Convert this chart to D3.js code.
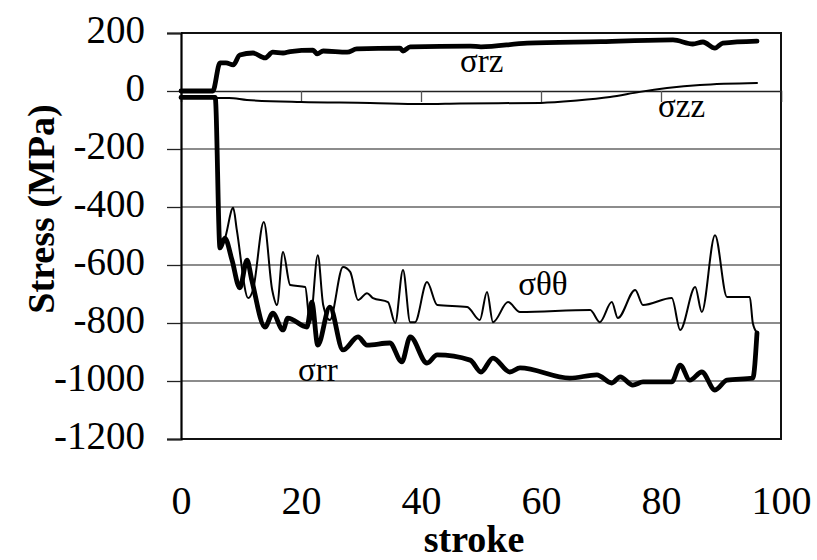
<!DOCTYPE html>
<html lang="en">
<head>
<meta charset="UTF-8">
<title>Stress vs stroke</title>
<script src="https://d3js.org/d3.v7.min.js"></script>
<style>
    body { margin: 0; background: #fff; }
    text { font-family: "Liberation Serif", "Times New Roman", serif; fill: #000; }
    .tick text { font-size: 39px; }
    .title { font-weight: bold; font-size: 38px; }
    .lbl { font-size: 33px; }
</style>
</head>
<body>
<svg width="817" height="560"></svg>
<script>
    // values: [stroke, stress MPa]
    const sigmaRZ = [[0,0],[5.3,0],[6.5,97],[7.5,97],[8.7,90],[9.8,124],[12,131],[14,114],[15.3,134],[17,131],
        [18.2,136],[22,141],[22.7,128],[23.7,138],[27.7,134],[29.3,145],[36.5,148],[37,138],[38.2,152],
        [48.2,155],[50,152],[57.7,165],[70,170],[82,176],[85.3,162],[87,169],[89,148],[90.3,165],[96,172]];
    const sigmaZZ = [[0,-24],[8,-24],[11,-31],[20,-38],[31.5,-41],[40,-45],[46.5,-43],[60,-41],[66,-33],
        [71.5,-21],[76.5,-3],[81,10],[86.5,21],[96,28]];
    const sigmaRR = [[0,-22],[5.7,-22],[6.5,-541],[7.3,-507],[8.5,-583],[9.8,-679],[11,-583],[11.8,-652],
        [14,-814],[15.3,-766],[17,-824],[17.8,-783],[21,-814],[21.8,-728],[22.8,-876],[24.8,-745],[27,-893],
        [29.5,-848],[31,-876],[34.8,-869],[36.8,-934],[38.2,-848],[41,-938],[42.7,-910],[48.2,-928],[50,-969],
        [52,-921],[54.8,-969],[56.5,-955],[64.8,-990],[69.3,-979],[71.8,-1007],[73.2,-986],[75.3,-1014],
        [77,-1003],[81.8,-1003],[83.2,-945],[84.8,-997],[86.8,-969],[89,-1031],[91,-997],[95.3,-990],[96,-834]];
    const sigmaTT = [[0,-22],[5.7,-22],[6.5,-541],[7.3,-510],[8.7,-403],[9.3,-479],[11.2,-714],[12,-686],
        [13.8,-452],[15.2,-686],[16,-738],[17,-555],[18.2,-669],[20.7,-676],[21.5,-800],[22.8,-566],[23.7,-738],
        [24.8,-790],[27,-607],[28.2,-624],[29.5,-721],[31,-697],[32,-714],[34.5,-728],[35.7,-800],[37,-617],
        [38.2,-797],[39,-797],[41,-659],[42.7,-738],[47.7,-745],[49.8,-790],[51,-693],[52,-797],[54.5,-728],
        [56.5,-762],[68.2,-755],[69.8,-797],[71.8,-728],[72.8,-783],[75.7,-686],[77,-738],[81.8,-714],
        [83.2,-824],[85.7,-676],[86.8,-762],[89,-497],[91,-710],[94.8,-710],[95.3,-800],[96,-834]];

    const xTicks = [0, 20, 40, 60, 80, 100];
    const yTicks = [200, 0, -200, -400, -600, -800, -1000, -1200];
    const gridValues = [-200, -400, -600, -800, -1000];

    const svg = d3.select("svg");
    const x = d3.scaleLinear().domain([0, 100]).range([181, 781]);
    const y = d3.scaleLinear().domain([-1200, 200]).range([439, 33]);

    // gridlines
    svg.append("g").selectAll("line").data(gridValues).enter().append("line")
        .attr("x1", x(0)).attr("x2", x(100))
        .attr("y1", d => y(d)).attr("y2", d => y(d))
        .attr("stroke", "#666").attr("stroke-width", 1.6);

    // plot border (top, right, bottom)
    svg.append("path")
        .attr("d", `M${x(0)},${y(200)}H${x(100)}V${y(-1200)}H${x(0)}`)
        .attr("fill", "none").attr("stroke", "#111").attr("stroke-width", 2);

    // zero axis with small downward ticks
    const zeroAxis = svg.append("g")
        .attr("transform", `translate(0,${y(0)})`)
        .call(d3.axisBottom(x).tickValues([20, 40, 60, 80]).tickSize(11).tickFormat(""));
    zeroAxis.select(".domain").attr("stroke", "#222").attr("stroke-width", 1.5);
    zeroAxis.selectAll(".tick line").attr("stroke", "#555").attr("stroke-width", 1.3);

    // y axis
    const yAxis = svg.append("g")
        .attr("transform", `translate(${x(0)},0)`)
        .call(d3.axisLeft(y).tickValues(yTicks).tickSize(14).tickPadding(22).tickFormat(d => String(d)));
    yAxis.select(".domain").attr("stroke", "#000").attr("stroke-width", 2.2);
    yAxis.selectAll(".tick line").attr("stroke", "#222").attr("stroke-width", 1.3);
    yAxis.selectAll(".tick text").attr("dy", "0.25em");

    // x tick labels placed below the plot
    const xAxis = svg.append("g")
        .attr("transform", "translate(0,476)")
        .call(d3.axisBottom(x).tickValues(xTicks).tickSize(0).tickPadding(0).tickFormat(d => String(d)));
    xAxis.select(".domain").remove();
    xAxis.selectAll(".tick text").attr("dy", "0.95em").style("font-size", "40px");

    // titles
    svg.append("text").attr("class", "title")
        .attr("x", 474).attr("y", 552).attr("text-anchor", "middle").text("stroke");
    svg.append("text").attr("class", "title")
        .attr("transform", "translate(54,209) rotate(-90)")
        .attr("text-anchor", "middle").text("Stress (MPa)");

    const line = d3.line().x(d => x(d[0])).y(d => y(d[1])).curve(d3.curveMonotoneX);

    const series = [
        { data: sigmaZZ, w: 2 },
        { data: sigmaTT, w: 2 },
        { data: sigmaRR, w: 4.8 },
        { data: sigmaRZ, w: 4.8 }
    ];
    svg.append("g").selectAll("path").data(series).enter().append("path")
        .attr("d", d => line(d.data))
        .attr("fill", "none").attr("stroke", "#000")
        .attr("stroke-width", d => d.w)
        .attr("stroke-linejoin", "round").attr("stroke-linecap", "round");

    // series labels
    const labels = [
        { t: "\u03c3rz", sx: 46.5, sy: 66 },
        { t: "\u03c3zz", sx: 79.5, sy: -90 },
        { t: "\u03c3\u03b8\u03b8", sx: 56.2, sy: -703 },
        { t: "\u03c3rr", sx: 19.5, sy: -1000 }
    ];
    svg.append("g").selectAll("text").data(labels).enter().append("text")
        .attr("class", "lbl")
        .attr("x", d => x(d.sx)).attr("y", d => y(d.sy))
        .text(d => d.t);
</script>
</body>
</html>
